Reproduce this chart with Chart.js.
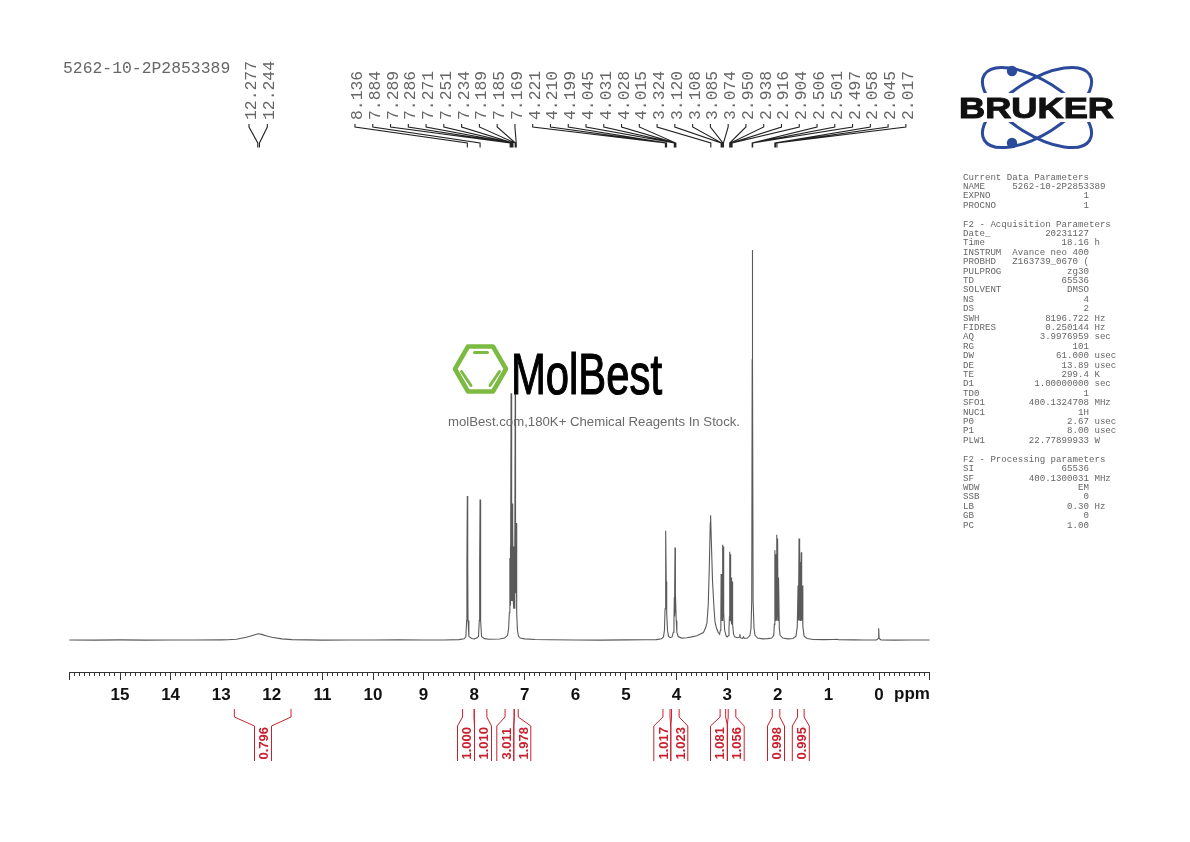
<!DOCTYPE html>
<html><head><meta charset="utf-8">
<script src="https://cdn.jsdelivr.net/npm/chart.js@4"></script>
<style>
html,body{margin:0;padding:0;background:#fff;width:1190px;height:842px;overflow:hidden}
#c{position:absolute;left:0;top:0}
#o{position:absolute;left:0;top:0}
#params{position:absolute;left:963px;top:172.5px;margin:0;font:9.13px/9.405px "Liberation Mono",monospace;color:#666;white-space:pre}
</style></head><body>
<canvas id="c" width="1190" height="842"></canvas>
<svg id="o" width="1190" height="842" xmlns="http://www.w3.org/2000/svg"></svg>
<pre id="params"></pre>
<script>
// ---------- data ----------
const sampleName = "5262-10-2P2853389";
const axisUnit = "ppm";
const baselineLeft = [[16,.02],[15.5,-.03],[15,.03],[14.5,-.02],[14,.02],[13.5,0],[13,.03]];
const acidHump = [[12.87,.05],[12.7,.2],[12.5,.7],[12.35,1.3],[12.27,1.6],[12.2,1.45],[12.1,1.05],[12,.7],[11.8,.3],[11.6,.1],[11.3,.03],[11,-.02],[10.5,.02],[10,0],[9.5,.03],[9,-.01],[8.6,.02],[8.3,.1]];
const singlets8 = [[8.2,.3],[8.165,.8],[8.15,5],[8.144,20],[8.136,36.9],[8.128,20],[8.122,5],[8.105,.9],[8.05,.4],[8,.3],[7.95,.5],[7.915,.9],[7.9,5],[7.892,20],[7.884,36],[7.876,20],[7.87,5],[7.855,.9],[7.8,.35],[7.7,.2],[7.5,.25]];
const aromatic = [[7.4,.5],[7.34,1.2],[7.32,3],[7.305,7],[7.295,21],[7.289,9],[7.286,24],[7.279,10],[7.271,63.3],[7.263,10],[7.257,30],[7.251,35],[7.245,10],[7.24,27],[7.234,30],[7.228,10],[7.222,24],[7.215,8],[7.208,22],[7.2,8],[7.195,24],[7.189,63.3],[7.187,40],[7.185,60],[7.177,12],[7.169,30],[7.16,7],[7.145,2.5],[7.125,1],[7.09,.5],[7,.3],[6.8,.15],[6.5,.05],[6,.02],[5.5,-.02],[5,.03],[4.6,.05]];
const multiplets4 = [[4.4,.1],[4.3,.3],[4.26,.8],[4.24,2.5],[4.228,8],[4.221,16],[4.216,14],[4.21,28],[4.204,14],[4.199,15],[4.192,7],[4.18,2.5],[4.16,1],[4.13,.6],[4.09,.8],[4.065,2],[4.052,5],[4.045,11],[4.04,6],[4.036,13],[4.031,23.7],[4.0295,9],[4.028,23],[4.022,7],[4.015,12],[4.007,5],[3.995,2],[3.97,.9],[3.9,.5]];
const waterPeak = [[3.8,.6],[3.7,.8],[3.6,1.1],[3.47,1.9],[3.43,3],[3.4,4.4],[3.375,9],[3.355,18],[3.335,30],[3.328,32],[3.315,26],[3.29,15],[3.26,8],[3.24,4.6],[3.21,3],[3.18,2],[3.15,1.5]];
const multiplets3 = [[3.135,2.5],[3.125,7],[3.12,16.9],[3.114,5],[3.108,15],[3.101,5],[3.094,16],[3.09,6],[3.085,24.4],[3.08,6],[3.074,24],[3.065,7],[3.05,2.5],[3.02,1],[3,.8],[2.98,1.1],[2.965,3],[2.955,6],[2.95,22.6],[2.944,5],[2.938,22],[2.932,5],[2.926,15],[2.921,5],[2.916,16],[2.91,4],[2.904,15],[2.893,4],[2.875,1.5],[2.85,.8],[2.8,.6],[2.76,.7],[2.75,1.5],[2.74,.6],[2.7,.4],[2.675,.8],[2.665,.4],[2.6,.5]];
const solventPeak = [[2.55,1.2],[2.53,3],[2.515,10],[2.506,72],[2.5035,30],[2.501,100],[2.499,30],[2.497,72],[2.488,10],[2.47,3],[2.45,1.2],[2.4,.5],[2.3,.3],[2.2,.35]];
const multiplets2 = [[2.12,.5],[2.08,1.2],[2.068,4],[2.058,23],[2.052,5],[2.045,22],[2.037,5],[2.03,20],[2.024,5],[2.017,27],[2.011,6],[2.004,26],[1.995,5],[1.985,16],[1.97,3],[1.955,1.2],[1.9,.5],[1.8,.3],[1.7,.4]];
const multiplets15 = [[1.64,1],[1.615,3.5],[1.6,14],[1.592,5],[1.58,26],[1.572,5],[1.565,24],[1.557,5],[1.55,20],[1.543,5],[1.535,22.5],[1.528,5],[1.52,14],[1.505,3.5],[1.48,1],[1.42,.4],[1.3,.15]];
const baselineRight = [[1.1,.1],[.9,.12],[.85,.2],[.8,.1],[.5,.03],[.3,0],[.05,.02],[.015,.4],[.006,3],[-.003,.4],[-.04,.02],[-.3,-.02],[-.6,.02],[-1,0]];
const acidPeakPpm = [12.277,12.244];
const peakPpm = [8.136,7.884,7.289,7.286,7.271,7.251,7.234,7.189,7.185,7.169,4.221,4.210,4.199,4.045,4.031,4.028,4.015,3.324,3.120,3.108,3.085,3.074,2.950,2.938,2.916,2.904,2.506,2.501,2.497,2.058,2.045,2.017];
const integralValues = ["0.796","1.000","1.010","3.011","1.978","1.017","1.023","1.081","1.056","0.998","0.995"];
const integralFrom = [12.74,8.23,8.00,7.39,7.21,4.27,4.10,3.14,2.98,2.11,1.61];
const integralTo = [11.62,8.00,7.75,7.21,7.13,4.13,3.95,3.03,2.83,1.96,1.48];
const paramHeadA = ["Current Data Parameters","NAME     5262-10-2P2853389"];
const paramRowsA = [["EXPNO","1"],["PROCNO","1"]];
const paramHeadB = "F2 - Acquisition Parameters";
const paramRowsB = [["Date_","20231127"],["Time","18.16","h"],["INSTRUM","Avance neo 400"],["PROBHD","Z163739_0670 ("],["PULPROG","zg30"],["TD","65536"],["SOLVENT","DMSO"],["NS","4"],["DS","2"],["SWH","8196.722","Hz"],["FIDRES","0.250144","Hz"],["AQ","3.9976959","sec"],["RG","101"],["DW","61.000","usec"],["DE","13.89","usec"],["TE","299.4","K"],["D1","1.00000000","sec"],["TD0","1"],["SFO1","400.1324708","MHz"],["NUC1","1H"],["P0","2.67","usec"],["P1","8.00","usec"],["PLW1","22.77899933","W"]];
const paramHeadC = "F2 - Processing parameters";
const paramRowsC = [["SI","65536"],["SF","400.1300031","MHz"],["WDW","EM"],["SSB","0"],["LB","0.30","Hz"],["GB","0"],["PC","1.00"]];
const watermarkName = "MolBest";
const watermarkTagline = "molBest.com,180K+ Chemical Reagents In Stock.";
const brandName = "BRUKER";

// ---------- layout of the annotation rows (pixels) ----------
const slotStart = 355, slotStep = 17.77;
const acidSlots = [249, 267.3];
const integralSlots = [263,466,483,505.3,522.3,662.3,679.3,719,735.7,776,800.8];
const INK = "#222", RED = "#c9202e";

const spectrum = [].concat(baselineLeft,acidHump,singlets8,aromatic,multiplets4,waterPeak,multiplets3,solventPeak,multiplets2,multiplets15,baselineRight);

const annotations = {
  id:"annotations",
  afterDraw(chart){
    const ctx=chart.ctx, xs=chart.scales.x;
    ctx.save();
    ctx.lineJoin="miter";
    const leader=(top,ppm)=>{
      const px=xs.getPixelForValue(ppm);
      ctx.moveTo(top,124);ctx.lineTo(top,127);ctx.lineTo(px,143);ctx.lineTo(px,147.5);
    };
    ctx.strokeStyle=INK;ctx.lineWidth=1.1;ctx.beginPath();
    acidPeakPpm.forEach((p,i)=>leader(acidSlots[i],p));
    peakPpm.forEach((p,i)=>leader(slotStart+i*slotStep,p));
    ctx.stroke();
    ctx.strokeStyle=RED;ctx.lineWidth=1;ctx.beginPath();
    integralValues.forEach((v,i)=>{
      const a=xs.getPixelForValue(integralFrom[i]), b=xs.getPixelForValue(integralTo[i]);
      const l=integralSlots[i]-8.5, r=integralSlots[i]+8.5;
      ctx.moveTo(a,709);ctx.lineTo(a,717);ctx.lineTo(l,726);ctx.lineTo(l,761);
      ctx.moveTo(b,709);ctx.lineTo(b,717);ctx.lineTo(r,726);ctx.lineTo(r,761);
    });
    ctx.stroke();
    ctx.restore();
  }
};

new Chart(document.getElementById("c"),{
  type:"line",
  data:{datasets:[{
    data:spectrum.map(d=>({x:d[0],y:d[1]})),
    borderColor:"#5a5a5a",borderWidth:1.1,pointRadius:0,tension:0,fill:false,clip:false
  }]},
  plugins:[annotations],
  options:{
    responsive:false,animation:false,devicePixelRatio:1,
    layout:{padding:{left:69.4,right:260.4,top:250,bottom:0}},
    plugins:{legend:{display:false},tooltip:{enabled:false},title:{display:false}},
    scales:{
      x:{type:"linear",reverse:true,min:-1,max:16,position:"bottom",
        afterFit(s){s.height=170;s.paddingLeft=0;s.paddingRight=0;},
        border:{display:true,color:"#333",width:1},
        grid:{drawOnChartArea:false,drawTicks:true,tickLength:8,tickColor:"#333",tickWidth:1,
          tickBorderDash:c=>{const v=Math.round(c.tick.value*10);return v%10===0?[]:[3,100];}},
        ticks:{stepSize:.1,autoSkip:false,maxRotation:0,minRotation:0,padding:5,color:"#111",
          font:{family:"'Liberation Sans',Arial,sans-serif",size:17,weight:"bold"},
          callback:v=>{const t=Math.round(v*10);if(t%10!==0)return "";const n=t/10;return (n<0||n>15)?"":String(n);}}
      },
      y:{type:"linear",display:false,min:-8.2,max:100}
    }
  }
});

// ---------- real text + logos ----------
const NS="http://www.w3.org/2000/svg", svg=document.getElementById("o");
function el(n,a,t){const e=document.createElementNS(NS,n);for(const k in a)e.setAttribute(k,a[k]);if(t!=null)e.textContent=t;svg.appendChild(e);return e;}
const mono={"font-family":"'Liberation Mono',monospace","font-size":"16.4",fill:"#666"};
el("text",Object.assign({x:63,y:73},mono),sampleName);
function rot(x,y,t,a){el("text",Object.assign({transform:`translate(${x},${y}) rotate(-90)`},a),t);}
acidPeakPpm.forEach((p,i)=>rot(acidSlots[i]+7,120,p.toFixed(3),mono));
peakPpm.forEach((p,i)=>rot(slotStart+i*slotStep+7,120,p.toFixed(3),mono));
const redF={"font-family":"'Liberation Sans',Arial,sans-serif","font-size":"13","font-weight":"bold",fill:RED};
integralValues.forEach((v,i)=>rot(integralSlots[i]+5.2,759.5,v,redF));
el("text",{x:894,y:699,"font-family":"'Liberation Sans',Arial,sans-serif","font-size":"17","font-weight":"bold",fill:"#111"},axisUnit);
const row=r=>r[0].padEnd(9)+r[1].padStart(14)+(r[2]?" "+r[2]:"");
document.getElementById("params").textContent=[].concat(paramHeadA,paramRowsA.map(row),"",paramHeadB,paramRowsB.map(row),"",paramHeadC,paramRowsC.map(row)).join("\n");

// Bruker logo
[32,-32].forEach(a=>el("ellipse",{cx:1037,cy:107.5,rx:62,ry:27,transform:`rotate(${a} 1037 107.5)`,fill:"none",stroke:"#2b4a9b","stroke-width":3}));
el("rect",{x:955,y:93,width:165,height:29,fill:"#fff"});
el("circle",{cx:1012,cy:71,r:5.2,fill:"#2b4a9b"});
el("circle",{cx:1012,cy:143,r:5.2,fill:"#2b4a9b"});
el("text",{x:959,y:118,textLength:155,lengthAdjust:"spacingAndGlyphs","font-family":"'Liberation Sans',Arial,sans-serif","font-size":"30","font-weight":"bold",fill:"#111",stroke:"#111","stroke-width":1},brandName);

// MolBest watermark
el("polygon",{points:"455,369 468,346.5 493,346.5 506,369 493,391.5 468,391.5",fill:"none",stroke:"#7cba42","stroke-width":4.5,"stroke-linejoin":"round"});
el("path",{d:"M474.5 352.5H487.5M461.5 371.5L471 385.5M499.5 371.5L490 385.5",stroke:"#7cba42","stroke-width":3,"stroke-linecap":"round",fill:"none"});
el("text",{x:511,y:393.5,textLength:151,lengthAdjust:"spacingAndGlyphs","font-family":"'Liberation Sans',Arial,sans-serif","font-size":"57",fill:"#000",stroke:"#000","stroke-width":1.2},watermarkName);
el("text",{x:448,y:426,textLength:292,lengthAdjust:"spacingAndGlyphs","font-family":"'Liberation Sans',Arial,sans-serif","font-size":"13.5",fill:"#6a6a6a"},watermarkTagline);
</script>
</body></html>
